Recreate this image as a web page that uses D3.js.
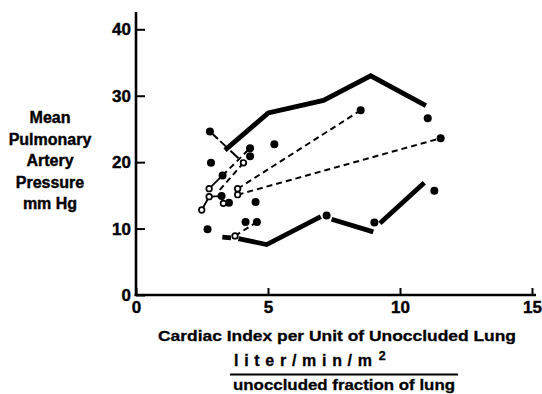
<!DOCTYPE html>
<html>
<head>
<meta charset="utf-8">
<script src="https://cdn.jsdelivr.net/npm/d3@7"></script>
<style>
  body { margin: 0; background: #fff; }
  svg text { font-family: "Liberation Sans", Arial, sans-serif; font-weight: bold; fill: #000; }
</style>
</head>
<body>
<div id="chart"></div>
<script>
// values
var xTicks = [0, 5, 10, 15];
var yTicks = [0, 10, 20, 30, 40];
var yTitle = ["Mean", "Pulmonary", "Artery", "Pressure", "mm Hg"];

// heavy upper / lower boundary lines
var upperBand = [[3.37, 21.8], [5.01, 27.4], [7.1, 29.3], [8.89, 33.0], [10.98, 28.5]];
var lowerBand = [
  [[3.27, 8.7], [3.6, 8.6]],
  [[3.88, 8.5], [4.95, 7.6], [7.0, 11.8]],
  [[7.41, 11.4], [8.99, 9.5]],
  [[9.24, 10.8], [10.92, 16.9]]
];

// filled points
var filled = [
  [2.80, 24.6], [2.84, 19.9], [3.28, 18.0], [4.32, 22.1], [4.32, 20.9],
  [5.24, 22.7], [3.24, 14.9], [3.52, 13.9], [4.53, 14.0], [2.71, 9.9],
  [4.15, 11.0], [4.58, 11.0], [8.51, 27.8], [11.05, 26.6], [11.54, 23.6],
  [11.3, 15.7], [7.22, 11.95], [9.03, 10.9]
];
// open points
var open = [
  [4.07, 19.9], [2.77, 16.0], [2.77, 14.8], [2.49, 12.8], [3.31, 13.8],
  [3.85, 16.0], [3.85, 15.1], [3.75, 8.9]
];

// dashed links between paired points
var dashedLinks = [
  [[3.85, 15.1], [11.54, 23.6]],
  [[3.85, 16.0], [8.51, 27.8]],
  [[3.75, 8.9], [4.58, 11.0]],
  [[4.07, 19.9], [3.08, 15.4]],
  [[3.28, 18.0], [4.32, 22.1]]
];
var longDashLinks = [
  [[2.80, 24.6], [4.07, 19.9]]
];
var solidLinks = [
  [[2.77, 16.0], [3.28, 18.0]],
  [[2.49, 12.8], [2.77, 14.8], [3.24, 14.9]],
  [[3.24, 14.9], [3.31, 13.8]]
];

var W = 542, H = 394;
var svg = d3.select("#chart").append("svg").attr("width", W).attr("height", H);

var x = d3.scaleLinear().domain([0, 15]).range([136, 532]);
var y = d3.scaleLinear().domain([0, 40]).range([295, 29.3]);

var line = d3.line().x(function(d) { return x(d[0]); }).y(function(d) { return y(d[1]); });

// axes
var gx = svg.append("g").attr("transform", "translate(0,295)")
  .call(d3.axisBottom(x).tickValues(xTicks).tickSize(-7).tickPadding(9).tickFormat(d3.format("d")));
gx.select(".domain").attr("d", "M134.5,0H536").attr("stroke-width", 2.6);
gx.selectAll(".tick line").attr("stroke-width", 2);
gx.selectAll(".tick text").attr("font-size", 17).attr("font-family", null).attr("dy", "0.55em")
  .attr("stroke", "#000").attr("stroke-width", 0.4);

var gy = svg.append("g").attr("transform", "translate(136,0)")
  .call(d3.axisLeft(y).tickValues(yTicks).tickSize(-9).tickPadding(5).tickFormat(d3.format("d")));
gy.select(".domain").attr("d", "M0,12V296").attr("stroke-width", 2.6);
gy.selectAll(".tick line").attr("stroke-width", 2);
gy.selectAll(".tick text").attr("font-size", 17).attr("font-family", null)
  .attr("stroke", "#000").attr("stroke-width", 0.4);

// links
svg.append("g").selectAll("path").data(solidLinks).join("path")
  .attr("d", line).attr("fill", "none").attr("stroke", "#000").attr("stroke-width", 1.8);
svg.append("g").selectAll("path").data(dashedLinks).join("path")
  .attr("d", line).attr("fill", "none").attr("stroke", "#000").attr("stroke-width", 2)
  .attr("stroke-dasharray", "6,4");
svg.append("g").selectAll("path").data(longDashLinks).join("path")
  .attr("d", line).attr("fill", "none").attr("stroke", "#000").attr("stroke-width", 2)
  .attr("stroke-dasharray", "11,3");

// heavy band lines
svg.append("path").datum(upperBand).attr("d", line)
  .attr("fill", "none").attr("stroke", "#000").attr("stroke-width", 4.8);
svg.append("g").selectAll("path").data(lowerBand).join("path")
  .attr("d", line).attr("fill", "none").attr("stroke", "#000").attr("stroke-width", 4.8);

// points
svg.append("g").selectAll("circle").data(filled).join("circle")
  .attr("cx", function(d) { return x(d[0]); }).attr("cy", function(d) { return y(d[1]); })
  .attr("r", 4).attr("fill", "#000");
svg.append("g").selectAll("circle").data(open).join("circle")
  .attr("cx", function(d) { return x(d[0]); }).attr("cy", function(d) { return y(d[1]); })
  .attr("r", 2.8).attr("fill", "#fff").attr("stroke", "#000").attr("stroke-width", 1.7);

// y title
svg.append("g").selectAll("text").data(yTitle).join("text")
  .attr("x", 50).attr("y", function(d, i) { return 123 + i * 21.5; })
  .attr("text-anchor", "middle").attr("font-size", 16)
  .attr("stroke", "#000").attr("stroke-width", 0.4)
  .text(function(d) { return d; });

// x title
svg.append("text").attr("x", 337).attr("y", 341).attr("text-anchor", "middle")
  .attr("font-size", 15.5).attr("textLength", 358).attr("lengthAdjust", "spacingAndGlyphs")
  .attr("stroke", "#000").attr("stroke-width", 0.3)
  .text("Cardiac Index per Unit of Unoccluded Lung");
var frac = svg.append("text").attr("x", 234).attr("y", 366)
  .attr("font-size", 16).attr("stroke", "#000").attr("stroke-width", 0.3);
frac.append("tspan").attr("textLength", 138).attr("lengthAdjust", "spacing").text("liter/min/m");
frac.append("tspan").attr("dy", -6).attr("dx", 1).attr("font-size", 12.5).text("2");
svg.append("line").attr("x1", 230).attr("x2", 458).attr("y1", 374.5).attr("y2", 374.5)
  .attr("stroke", "#000").attr("stroke-width", 1.8);
svg.append("text").attr("x", 344).attr("y", 390).attr("text-anchor", "middle")
  .attr("font-size", 15.5).attr("textLength", 222).attr("lengthAdjust", "spacingAndGlyphs")
  .attr("stroke", "#000").attr("stroke-width", 0.3)
  .text("unoccluded fraction of lung");
</script>
</body>
</html>
